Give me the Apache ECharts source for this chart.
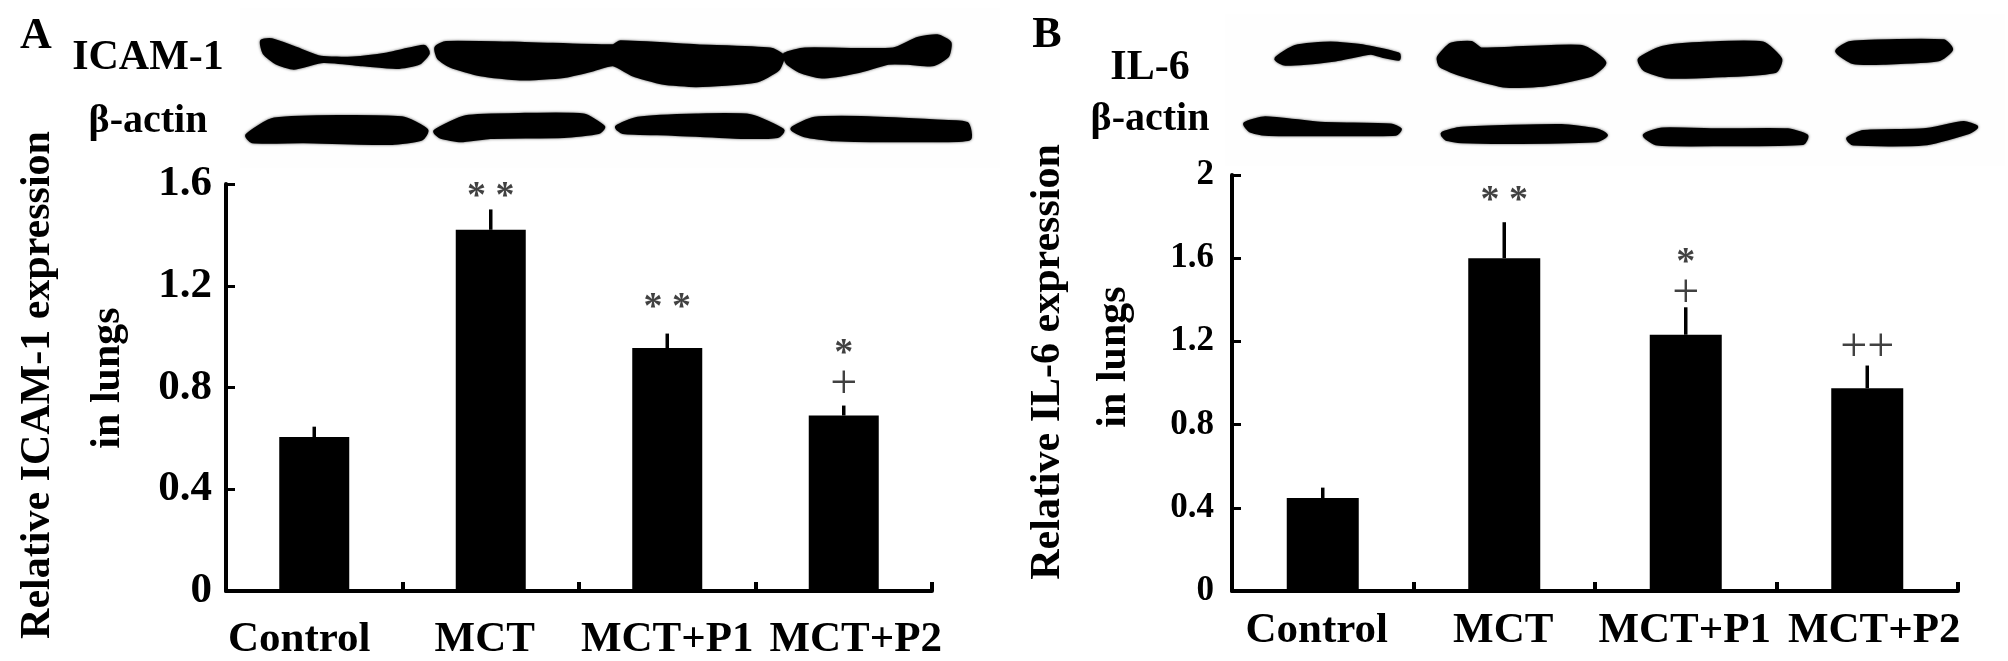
<!DOCTYPE html>
<html><head><meta charset="utf-8">
<style>html,body{margin:0;padding:0;background:#fff}#c{width:2008px;height:661px;filter:blur(0.6px)}</style>
<script src="https://cdn.jsdelivr.net/npm/echarts@6/dist/echarts.min.js"></script>
</head><body><div id="c"></div>
<script>
const categories = ['Control','MCT','MCT+P1','MCT+P2'];
const valuesA = [0.605,1.42,0.955,0.69];
const errorTopsA = [0.646,1.5,1.012,0.729];
const valuesB = [0.447,1.6,1.232,0.975];
const errorTopsB = [0.497,1.773,1.364,1.084];
const ticksA = {max:1.6, interval:0.4};
const ticksB = {max:2, interval:0.4};
const marksA = [['MCT',1.548,'* *'],['MCT+P1',1.112,'* *'],['MCT+P2',0.93,'*'],['MCT+P2',0.81,'+']];
const marksB = [['MCT',1.874,'* *'],['MCT+P1',1.576,'*'],['MCT+P1',1.427,'+'],['MCT+P2',1.168,'++']];

const F = '"Liberation Serif"';
const blotsA = [
 [[65,125],[85,122],[130,145],[185,175],[250,177],[320,165],[395,142],[403,160],[385,190],[340,203],[270,195],[190,185],[130,205],[95,190],[70,160]],
 [[420,145],[440,130],[600,133],[780,140],[795,128],[950,140],[1100,150],[1125,170],[1115,210],[1070,245],[950,258],[880,250],[820,225],[780,195],[740,210],[680,230],[590,238],[510,225],[450,200],[425,175]],
 [[1130,165],[1170,150],[1350,150],[1400,118],[1440,110],[1465,130],[1460,170],[1430,195],[1380,190],[1340,190],[1280,215],[1205,232],[1160,215],[1135,190]],
 [[35,410],[90,362],[350,358],[400,395],[390,420],[330,433],[150,428],[45,428]],
 [[418,398],[480,355],[600,348],[720,350],[760,385],[750,400],[680,412],[530,415],[470,425],[430,415]],
 [[788,385],[830,360],[950,350],[1060,352],[1125,395],[1115,412],[1040,415],[900,405],[800,400]],
 [[1145,390],[1190,360],[1300,358],[1440,368],[1500,375],[1505,420],[1400,425],[1230,422],[1170,410]]
];
const blotsB = [
 [[112,178],[150,142],[220,132],[290,142],[355,165],[355,178],[325,170],[300,160],[230,180],[130,193]],
 [[435,175],[460,135],[500,130],[520,150],[720,142],[765,190],[740,225],[650,255],[570,260],[480,225],[440,200]],
 [[835,180],[880,145],[970,132],[1080,132],[1115,180],[1105,215],[1000,228],[890,232],[845,210]],
 [[1228,155],[1255,130],[1440,125],[1455,150],[1430,180],[1320,190],[1260,188]],
 [[50,375],[90,358],[200,375],[340,380],[358,392],[350,405],[200,407],[90,405],[60,395]],
 [[443,405],[480,390],[680,382],[750,395],[768,410],[750,425],[600,430],[480,428],[450,420]],
 [[845,410],[880,392],[1000,395],[1130,395],[1167,412],[1160,433],[1000,437],[870,435]],
 [[1250,420],[1280,400],[1400,395],[1480,373],[1505,385],[1490,400],[1400,435],[1260,435]]
];
function blot(pts,x0,sx){
  return {type:'polygon',shape:{points:pts.map(p=>[x0+p[0]/sx,p[1]/3.03]),smooth:0.2},
    style:{fill:'#000',stroke:'#000',lineWidth:4,lineJoin:'round',shadowBlur:3,shadowColor:'rgba(0,0,0,0.6)'},z:2};
}
function txt(s,x,y,size,rot){
  return {type:'text',x:x,y:y,rotation:rot||0,z:5,
    style:{text:s,font:'bold '+size+'px '+F,fill:'#000',align:'center',verticalAlign:'middle'}};
}
const graphic = [
 {type:'rect',shape:{x:240,y:8,width:760,height:160},style:{fill:'#fefefe'},z:1},
 {type:'rect',shape:{x:1225,y:14,width:780,height:152},style:{fill:'#fefefe'},z:1},
 ...blotsA.map(p=>blot(p,230,2.036)),
 ...blotsB.map(p=>blot(p,1220,1.99)),
 txt('A',36,37,44), txt('B',1047,36,44),
 txt('ICAM-1',148,58,42), txt('β-actin',148,122,40),
 txt('IL-6',1150,68,42), txt('β-actin',1150,120,40),
 txt('Relative ICAM-1 expression',38,385,42,Math.PI/2),
 txt('in lungs',108,378,42,Math.PI/2),
 txt('Relative IL-6 expression',1048,362,42,Math.PI/2),
 txt('in lungs',1114,357,42,Math.PI/2)
];
function xAxis(idx,offs){
  const rich={};
  offs.forEach((o,i)=>{rich['c'+i]={fontFamily:F,fontWeight:'bold',fontSize:43,color:'#000',padding:o<0?[0,-2*o,0,0]:[0,0,0,2*o]};});
  return {type:'category',gridIndex:idx,data:categories,
    axisLine:{lineStyle:{color:'#000',width:4}},
    axisTick:{show:true,inside:true,length:9,alignWithLabel:false,lineStyle:{color:'#000',width:4}},
    axisLabel:{interval:0,margin:idx?18:27,formatter:(v,i)=>'{c'+i+'|'+v+'}',rich:rich,hideOverlap:false},
    splitLine:{show:false}};
}
function yAxis(idx,t,size,margin){
  return {type:'value',gridIndex:idx,min:0,max:t.max,interval:t.interval,
    axisLine:{show:true,lineStyle:{color:'#000',width:4}},
    axisTick:{show:true,inside:true,length:9,lineStyle:{color:'#000',width:3}},
    axisLabel:{margin:margin,color:'#000',fontFamily:F,fontWeight:'bold',fontSize:size},
    splitLine:{show:false}};
}
function bars(idx,vals,w){
  return {type:'bar',xAxisIndex:idx,yAxisIndex:idx,data:vals,barWidth:w,itemStyle:{color:'#000'},z:3,animation:false};
}
function errs(idx,vals,tops){
  return {type:'custom',xAxisIndex:idx,yAxisIndex:idx,z:2,animation:false,
    data:vals.map((v,i)=>[i,v,tops[i]]),
    encode:{x:0,y:[1,2]},
    renderItem:(p,api)=>{
      const a=api.coord([api.value(0),api.value(1)]),b=api.coord([api.value(0),api.value(2)]);
      return {type:'line',shape:{x1:a[0],y1:a[1],x2:b[0],y2:b[1]},style:{stroke:'#000',lineWidth:3.5}};
    }};
}
function marks(idx,m){
  return {type:'scatter',xAxisIndex:idx,yAxisIndex:idx,symbolSize:1,itemStyle:{color:'rgba(0,0,0,0)'},z:6,animation:false,
    data:m.map(r=>({value:[r[0],r[1]],name:r[2],
      label:{show:true,position:'inside',formatter:r[2],color:'#111',
        fontFamily:F,fontWeight:r[2].includes('*')?'bold':'normal',
        fontSize:r[2].includes('*')?38:48,verticalAlign:'middle',align:'center'}}))};
}
const chart = echarts.init(document.getElementById('c'),null,{renderer:'canvas'});
chart.setOption({
  animation:false,backgroundColor:'#fff',
  grid:[{left:226,top:184,width:706,height:407,containLabel:false},
        {left:1232,top:175,width:726,height:416,containLabel:false}],
  xAxis:[xAxis(0,[-15,-6,0,12]),xAxis(1,[-6,-1,-1,7])],
  yAxis:[yAxis(0,ticksA,43,14),yAxis(1,ticksB,35,18)],
  series:[bars(0,valuesA,70),errs(0,valuesA,errorTopsA),marks(0,marksA),
          bars(1,valuesB,72),errs(1,valuesB,errorTopsB),marks(1,marksB)],
  graphic:graphic
});
</script></body></html>
